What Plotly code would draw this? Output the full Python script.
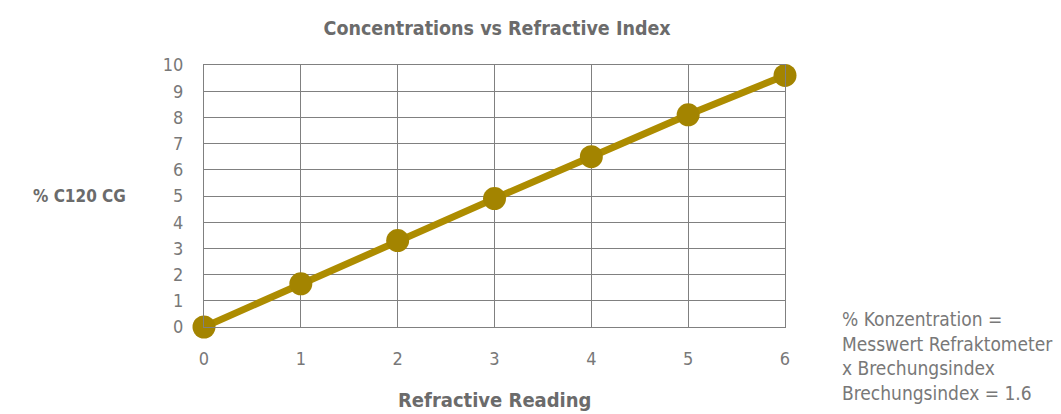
import plotly.graph_objects as go

refractive_reading = [0, 1, 2, 3, 4, 5, 6]
concentration = [0, 1.65, 3.3, 4.9, 6.5, 8.1, 9.6]
x_ticks = [0, 1, 2, 3, 4, 5, 6]
y_ticks = [0, 1, 2, 3, 4, 5, 6, 7, 8, 9, 10]

FONT = "DejaVu Sans Condensed, sans-serif"
GRAY = "#787878"
DARK = "#6b6b6b"

fig = go.Figure()
fig.add_trace(go.Scatter(
    x=refractive_reading, y=concentration, mode="lines+markers",
    line=dict(color="#AD8C00", width=7),
    marker=dict(color="#A38400", size=23),
    cliponaxis=False, hoverinfo="skip", showlegend=False,
))

fig.update_layout(
    width=1061, height=414,
    margin=dict(l=196, r=284, t=57, b=95),
    paper_bgcolor="white", plot_bgcolor="white",
    font=dict(family=FONT, color=GRAY, size=17),
    title=dict(text="<b>Concentrations vs Refractive Index</b>", x=0.461, xanchor="center",
               y=0.952, yanchor="middle", font=dict(size=19.5, color=DARK)),
    xaxis=dict(range=[0, 6], tickvals=x_ticks, showgrid=True, gridcolor="#808080", gridwidth=1,
               showline=True, linecolor="#808080", linewidth=1, mirror=True, zeroline=False,
               ticks="", ticklabelstandoff=15, tickfont=dict(size=18, color=GRAY)),
    yaxis=dict(range=[0, 10], tickvals=y_ticks, showgrid=True, gridcolor="#808080", gridwidth=1,
               showline=True, linecolor="#808080", linewidth=1, mirror=True, zeroline=False,
               ticks="", ticklabelstandoff=16, tickfont=dict(size=18, color=GRAY)),
    annotations=[
        dict(text="<b>% C120 CG</b>", xref="paper", yref="paper", x=-0.215, y=0.5,
             xanchor="center", yanchor="middle", showarrow=False, font=dict(size=17, color=DARK)),
        dict(text="<b>Refractive Reading</b>", xref="paper", yref="paper", x=0.5, y=-0.28,
             xanchor="center", yanchor="middle", showarrow=False, font=dict(size=20, color=DARK)),
        dict(text="% Konzentration =<br>Messwert Refraktometer<br>x Brechungsindex<br>Brechungsindex = 1.6",
             xref="paper", yref="paper", x=1.095, y=0.082, xanchor="left", yanchor="top",
             align="left", showarrow=False, font=dict(size=19, color=GRAY)),
    ],
)

fig.write_html("out.html")
